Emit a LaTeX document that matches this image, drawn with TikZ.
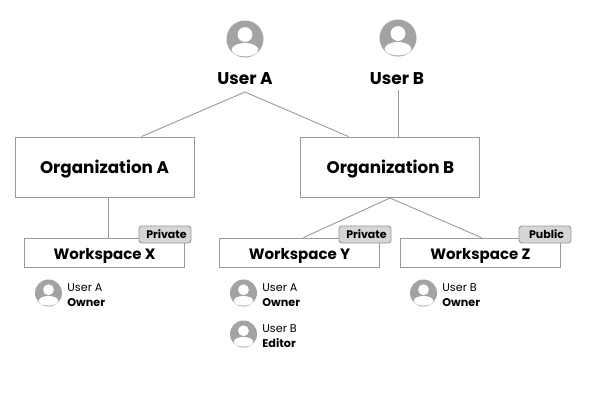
\documentclass[tikz,border=0pt]{standalone}
\usepackage{fontspec}
\setmainfont{Poppins}
\usepackage{xcolor}
\usepackage{tikz}
\usetikzlibrary{positioning,calc}
\definecolor{OrgLine}{HTML}{999999}
\definecolor{OrgIcon}{HTML}{A3A3A3}
\definecolor{OrgTag}{HTML}{D6D6D6}
\tikzset{
avatar/.style={circle,fill=OrgIcon,inner sep=0pt,minimum size=#1,path picture={
\fill[white] (path picture bounding box.center)++(0,0.12*#1) circle (0.2*#1);
\fill[white] (path picture bounding box.center)++(0,-0.29*#1) ellipse (0.36*#1 and 0.18*#1);}},
}
\begin{document}
\begin{tikzpicture}[x=1pt,y=1pt,every node/.style={text=black}, org/.style={draw=OrgLine,line width=0.9pt,minimum width=179pt,minimum height=60pt,inner sep=0pt,text height=13pt,text depth=0pt,font=\fontsize{16.8}{20}\selectfont\bfseries}, ws/.style={draw=OrgLine,line width=0.9pt,minimum width=159.6pt,minimum height=29pt,inner sep=0pt,text height=14pt,text depth=0pt,font=\fontsize{15}{18}\selectfont\bfseries}, tag/.style={draw=OrgLine,line width=0.9pt,fill=OrgTag,rounded corners=3pt,minimum width=52pt,minimum height=17pt,inner sep=0pt,text height=8.5pt,text depth=0pt,font=\fontsize{11}{12}\selectfont\bfseries}, who/.style={align=left,inner sep=0pt,anchor=west,yshift=-2pt,font=\fontsize{11.2}{15}\selectfont}, usr/.style={font=\fontsize{17}{20}\selectfont\bfseries,inner sep=0pt}, link/.style={draw=OrgLine,line width=0.9pt}]
\useasboundingbox (0,0) rectangle (600,-400);
\node[avatar=37pt] (iconA) at (245,-39) {};
\node[avatar=37pt] (iconB) at (398,-38) {};
\node[usr] (userA) at (245,-79) {User A};
\node[usr] (userB) at (397,-79) {User B};
\node[org] (orgA) at (104.5,-167) {Organization A};
\node[org,right=106pt of orgA] (orgB) {Organization B};
\node[ws] (wsX) at (104.5,-252.5) {Workspace X};
\node[ws] (wsY) at (299.5,-252.5) {Workspace Y};
\node[ws,right=20.4pt of wsY] (wsZ) {Workspace Z};
\node[tag] (tagX) at (165,-234.5) {\hspace{3pt}Private};
\node[tag] (tagY) at (365,-234.5) {\hspace{3pt}Private};
\node[tag] (tagZ) at (545,-234.5) {\hspace{3pt}Public};
\node[avatar=27pt] (iconXA) at (48.5,-293) {};
\node[who,right=5pt of iconXA] (whoXA) {User A\\\textbf{Owner}};
\node[avatar=27pt] (iconYA) at (243.5,-293) {};
\node[who,right=5pt of iconYA] (whoYA) {User A\\\textbf{Owner}};
\node[avatar=27pt] (iconYB) at (243.5,-334) {};
\node[who,right=5pt of iconYB] (whoYB) {User B\\\textbf{Editor}};
\node[avatar=27pt] (iconZB) at (423.5,-293) {};
\node[who,right=5pt of iconZB] (whoZB) {User B\\\textbf{Owner}};
\coordinate (forkA) at (245,-92);
\coordinate (forkB) at (390,-198);
\coordinate (stemB) at (398,-90);
\draw[link] ([xshift=37pt]orgA.north) -- (forkA) -- ([xshift=-42pt]orgB.north);
\draw[link] (stemB) -- (stemB |- orgB.north);
\draw[link] ([xshift=4pt]orgA.south) -- ([xshift=4pt]wsX.north);
\draw[link] ([xshift=4pt]wsY.north) -- (forkB) -- ([xshift=1pt]wsZ.north);
\end{tikzpicture}
\end{document}
